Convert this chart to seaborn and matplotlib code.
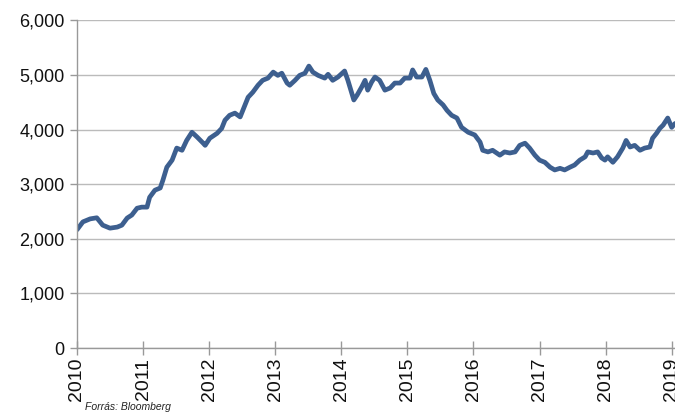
import matplotlib
matplotlib.use("Agg")
import matplotlib.pyplot as plt
import matplotlib.ticker as mticker
import seaborn as sns
import pandas as pd
import numpy as np

# index level (decimal year, value)
years = [2010.00, 2010.09, 2010.20, 2010.30, 2010.39, 2010.50, 2010.61, 2010.68, 2010.76, 2010.83,
         2010.91, 2010.98, 2011.06, 2011.10, 2011.18, 2011.26, 2011.30, 2011.36, 2011.44, 2011.51,
         2011.59, 2011.66, 2011.74, 2011.82, 2011.91, 2011.94, 2012.01, 2012.12, 2012.19, 2012.24,
         2012.31, 2012.39, 2012.47, 2012.51, 2012.59, 2012.66, 2012.74, 2012.81, 2012.89, 2012.97,
         2013.04, 2013.10, 2013.18, 2013.22, 2013.30, 2013.37, 2013.45, 2013.51, 2013.57, 2013.65,
         2013.75, 2013.80, 2013.87, 2013.95, 2014.05, 2014.10, 2014.16, 2014.19, 2014.24, 2014.31,
         2014.36, 2014.40, 2014.46, 2014.51, 2014.58, 2014.66, 2014.74, 2014.81, 2014.89, 2014.96,
         2015.04, 2015.08, 2015.14, 2015.22, 2015.28, 2015.34, 2015.40, 2015.46, 2015.54, 2015.60,
         2015.67, 2015.75, 2015.82, 2015.92, 2016.02, 2016.10, 2016.14, 2016.22, 2016.29, 2016.40,
         2016.47, 2016.55, 2016.63, 2016.70, 2016.78, 2016.85, 2016.93, 2017.00, 2017.08, 2017.16,
         2017.23, 2017.31, 2017.38, 2017.46, 2017.53, 2017.61, 2017.69, 2017.73, 2017.81, 2017.88,
         2017.94, 2017.99, 2018.03, 2018.11, 2018.18, 2018.26, 2018.31, 2018.37, 2018.44, 2018.52,
         2018.59, 2018.67, 2018.71, 2018.77, 2018.82, 2018.87, 2018.94, 2019.00, 2019.05]
values = [2165, 2310, 2365, 2385, 2250, 2195, 2215, 2250, 2380, 2435,
          2560, 2580, 2580, 2760, 2890, 2930, 3070, 3310, 3440, 3660,
          3620, 3800, 3950, 3860, 3750, 3710, 3840, 3930, 4020, 4170,
          4260, 4300, 4230, 4350, 4590, 4680, 4810, 4900, 4940, 5050,
          4990, 5030, 4850, 4810, 4900, 4990, 5030, 5160, 5050, 4990,
          4940, 5010, 4900, 4960, 5070, 4900, 4660, 4540, 4630, 4780,
          4900, 4720, 4870, 4960, 4900, 4720, 4760, 4850, 4850, 4940,
          4940, 5090, 4960, 4960, 5100, 4900, 4660, 4540, 4450, 4350,
          4260, 4210, 4040, 3950, 3900, 3770, 3620, 3590, 3620, 3530,
          3590, 3570, 3590, 3710, 3750, 3660, 3530, 3440, 3400, 3310,
          3260, 3290, 3260, 3310, 3350, 3440, 3500, 3590, 3570, 3590,
          3480, 3440, 3500, 3400, 3500, 3660, 3800, 3680, 3710, 3620,
          3660, 3680, 3840, 3930, 4020, 4080, 4210, 4040, 4110]
year_ticks = list(range(2010, 2020))
source = "Forrás: Bloomberg"

df = pd.DataFrame({"year": years, "value": values})

sns.set_theme(style="white")
plt.rcParams["font.family"] = ["Liberation Sans", "DejaVu Sans"]

fig = plt.figure(figsize=(6.75, 4.12), dpi=100)
ax = fig.add_axes([0.114, 0.155, 0.886, 0.796])

sns.lineplot(data=df, x="year", y="value", ax=ax, color="#3D5F8F", linewidth=3.4)

ax.set_xlim(2010, 2019.05)
ax.set_ylim(0, 6000)
ax.set_xticks(year_ticks)
ax.set_xticklabels([str(y) for y in year_ticks], rotation=90, fontsize=14, color="#111111")
ax.yaxis.set_major_locator(mticker.MultipleLocator(1000))
ax.yaxis.set_major_formatter(mticker.FuncFormatter(lambda v, p: f"{int(v):,}"))
ax.tick_params(axis="y", labelsize=13, colors="#999999", labelcolor="#111111",
               direction="out", length=5, width=1, left=True, pad=4)
ax.tick_params(axis="x", colors="#999999", labelcolor="#111111",
               direction="inout", length=10, width=1, bottom=True, pad=2)
ax.grid(axis="y", color="#BBBBBB", linewidth=1)
ax.set_xlabel("")
ax.set_ylabel("")
for s in ["top", "right"]:
    ax.spines[s].set_visible(False)
for s in ["left", "bottom"]:
    ax.spines[s].set_color("#999999")
    ax.spines[s].set_linewidth(1)

fig.text(0.126, 0.005, source, fontsize=7.5, style="italic", color="#222222")

fig.savefig("out.png", dpi=100)
